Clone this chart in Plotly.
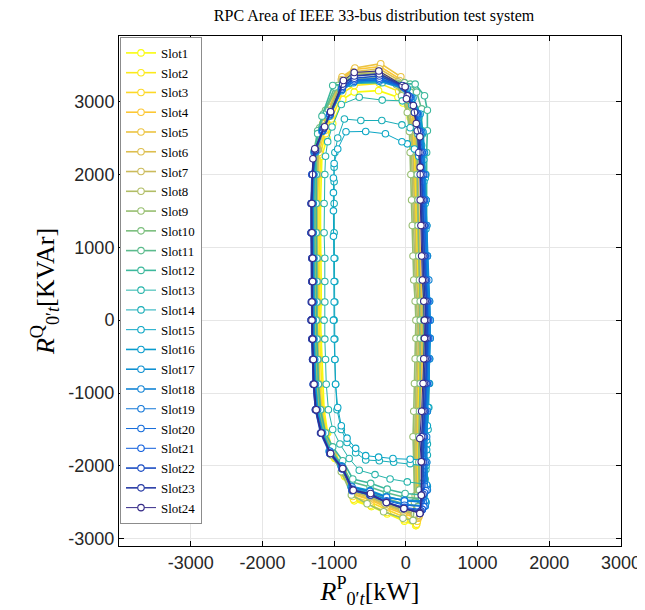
import plotly.graph_objects as go

# ---------------- data ----------------
slot_names = [f"Slot{i}" for i in range(1, 25)]

p1 = [140, 150, 140, 130, 150, 170, 180, 190, 190, 180, 160, 150, 140, 130, 120, 110, 100, 60, -40, -110, -380, -720, -880, -1020, -1100, -1170, -1180, -1190, -1190, -1180, -1180, -1180, -1190, -1180, -1170, -1160, -1140, -1090, -990, -850, -720, -480, -260, -20]
q1 = [-2820, -2560, -1950, -1600, -1250, -870, -530, -250, 0, 260, 550, 880, 1300, 1650, 2000, 2300, 2550, 2780, 2980, 3060, 3150, 3130, 3030, 2700, 2500, 2250, 2000, 1600, 1200, 850, 530, 250, 0, -260, -540, -880, -1230, -1550, -1900, -2150, -2480, -2560, -2660, -2760]
p2 = [150, 160, 150, 150, 170, 180, 190, 200, 200, 190, 170, 160, 150, 140, 130, 120, 110, 70, -30, -100, -370, -720, -880, -1040, -1120, -1190, -1200, -1210, -1210, -1200, -1200, -1200, -1210, -1200, -1190, -1180, -1160, -1100, -1000, -860, -730, -490, -260, -20]
q2 = [-2800, -2540, -1950, -1600, -1250, -870, -530, -250, 0, 260, 550, 880, 1300, 1650, 2000, 2300, 2560, 2810, 3030, 3140, 3250, 3220, 3120, 2760, 2560, 2280, 2000, 1600, 1200, 850, 530, 250, 0, -260, -540, -880, -1230, -1550, -1880, -2130, -2460, -2540, -2640, -2740]
p3 = [160, 170, 160, 160, 180, 190, 200, 210, 210, 200, 180, 170, 160, 150, 140, 130, 120, 80, -20, -90, -370, -720, -880, -1050, -1130, -1210, -1220, -1230, -1230, -1220, -1220, -1220, -1230, -1220, -1210, -1200, -1170, -1110, -1010, -870, -740, -490, -270, -30]
q3 = [-2760, -2500, -1950, -1600, -1250, -870, -530, -250, 0, 260, 550, 880, 1300, 1650, 2000, 2300, 2580, 2840, 3080, 3200, 3320, 3290, 3190, 2800, 2600, 2300, 2000, 1600, 1200, 850, 530, 250, 0, -260, -540, -880, -1230, -1550, -1860, -2100, -2420, -2500, -2600, -2700]
p4 = [170, 180, 180, 170, 190, 210, 220, 230, 230, 220, 200, 190, 180, 170, 160, 150, 130, 90, -10, -80, -360, -720, -890, -1060, -1150, -1230, -1240, -1250, -1250, -1240, -1240, -1240, -1250, -1240, -1230, -1220, -1190, -1120, -1020, -880, -740, -490, -270, -30]
q4 = [-2720, -2470, -1950, -1600, -1250, -870, -530, -250, 0, 260, 550, 880, 1300, 1650, 2000, 2300, 2620, 2900, 3160, 3310, 3480, 3440, 3320, 2900, 2680, 2360, 2000, 1600, 1200, 850, 530, 250, 0, -260, -540, -880, -1230, -1550, -1850, -2080, -2390, -2470, -2570, -2660]
p5 = [180, 190, 190, 180, 200, 220, 230, 240, 240, 230, 210, 200, 190, 180, 170, 160, 140, 100, 0, -70, -350, -710, -890, -1070, -1160, -1240, -1250, -1260, -1260, -1250, -1250, -1250, -1260, -1250, -1240, -1230, -1200, -1130, -1030, -880, -750, -500, -270, -30]
q5 = [-2700, -2450, -1950, -1600, -1250, -870, -530, -250, 0, 260, 550, 880, 1300, 1650, 2000, 2300, 2630, 2920, 3180, 3340, 3520, 3460, 3340, 2920, 2700, 2370, 2000, 1600, 1200, 850, 530, 250, 0, -260, -540, -880, -1230, -1550, -1840, -2070, -2380, -2450, -2550, -2640]
p6 = [170, 190, 180, 180, 190, 200, 210, 220, 220, 210, 190, 180, 170, 160, 150, 140, 120, 80, -20, -90, -370, -730, -900, -1070, -1160, -1250, -1260, -1270, -1270, -1260, -1260, -1260, -1270, -1260, -1250, -1240, -1210, -1140, -1030, -890, -750, -500, -280, -40]
q6 = [-2680, -2440, -1950, -1600, -1250, -870, -530, -250, 0, 260, 550, 880, 1300, 1650, 2000, 2300, 2610, 2880, 3140, 3290, 3450, 3410, 3300, 2880, 2660, 2350, 2000, 1600, 1200, 850, 530, 250, 0, -260, -540, -880, -1230, -1550, -1830, -2060, -2360, -2430, -2530, -2620]
p7 = [140, 150, 140, 140, 150, 160, 170, 180, 180, 170, 150, 140, 130, 120, 110, 100, 90, 50, -40, -110, -380, -730, -890, -1060, -1140, -1220, -1230, -1240, -1240, -1230, -1230, -1230, -1240, -1230, -1220, -1210, -1180, -1120, -1020, -880, -740, -500, -280, -40]
q7 = [-2660, -2420, -1950, -1600, -1250, -870, -530, -250, 0, 260, 550, 880, 1300, 1650, 2000, 2300, 2600, 2870, 3120, 3270, 3420, 3390, 3280, 2870, 2650, 2340, 2000, 1600, 1200, 850, 530, 250, 0, -260, -540, -880, -1230, -1550, -1830, -2040, -2350, -2420, -2520, -2600]
p8 = [120, 130, 120, 120, 130, 140, 150, 160, 160, 150, 130, 120, 110, 100, 90, 80, 70, 30, -50, -120, -380, -730, -890, -1060, -1150, -1230, -1240, -1250, -1250, -1240, -1240, -1240, -1250, -1240, -1230, -1220, -1190, -1130, -1030, -890, -750, -500, -290, -50]
q8 = [-2660, -2410, -1950, -1600, -1250, -870, -530, -250, 0, 260, 550, 880, 1300, 1650, 2000, 2300, 2590, 2860, 3100, 3250, 3400, 3370, 3260, 2860, 2640, 2340, 2000, 1600, 1200, 850, 530, 250, 0, -260, -540, -880, -1230, -1550, -1820, -2030, -2340, -2420, -2520, -2600]
p9 = [100, 120, 110, 100, 110, 120, 130, 140, 140, 130, 110, 100, 90, 80, 70, 60, 50, 20, -60, -130, -390, -740, -900, -1070, -1160, -1240, -1250, -1260, -1260, -1250, -1250, -1250, -1260, -1250, -1240, -1230, -1200, -1140, -1040, -900, -760, -540, -310, -40]
q9 = [-2750, -2500, -1950, -1600, -1250, -870, -530, -250, 0, 260, 550, 880, 1300, 1650, 2000, 2300, 2590, 2850, 3080, 3230, 3380, 3350, 3240, 2850, 2630, 2330, 2000, 1600, 1200, 850, 530, 250, 0, -260, -540, -880, -1230, -1550, -1850, -2080, -2400, -2520, -2630, -2720]
p10 = [170, 190, 180, 180, 190, 200, 200, 200, 200, 200, 190, 180, 170, 170, 160, 160, 150, 130, 60, -20, -380, -760, -950, -1120, -1200, -1260, -1270, -1280, -1280, -1270, -1270, -1270, -1280, -1270, -1260, -1250, -1220, -1150, -1050, -900, -760, -500, -270, -30]
q10 = [-2560, -2330, -1950, -1600, -1250, -870, -530, -250, 0, 260, 550, 880, 1300, 1650, 2000, 2300, 2620, 2900, 3130, 3260, 3330, 3300, 3220, 2880, 2640, 2350, 2000, 1600, 1200, 850, 530, 250, 0, -260, -540, -880, -1230, -1550, -1800, -2000, -2290, -2360, -2450, -2520]
p11 = [220, 240, 230, 230, 240, 250, 250, 250, 250, 250, 240, 240, 230, 230, 230, 230, 230, 220, 150, 60, -340, -760, -990, -1150, -1230, -1280, -1280, -1290, -1290, -1280, -1280, -1280, -1290, -1280, -1270, -1260, -1230, -1150, -1050, -900, -760, -500, -270, -20]
q11 = [-2450, -2230, -1950, -1600, -1250, -870, -530, -250, 0, 260, 550, 880, 1300, 1650, 2000, 2300, 2600, 2900, 3130, 3240, 3300, 3270, 3200, 2830, 2600, 2320, 2000, 1600, 1200, 850, 530, 250, 0, -260, -540, -880, -1230, -1550, -1780, -1970, -2220, -2290, -2370, -2430]
p12 = [250, 270, 270, 270, 280, 290, 290, 290, 290, 290, 290, 280, 280, 280, 280, 290, 300, 300, 260, 130, -330, -780, -1020, -1170, -1230, -1260, -1250, -1250, -1250, -1240, -1240, -1240, -1250, -1240, -1230, -1220, -1190, -1120, -1020, -880, -740, -490, -260, -10]
q12 = [-2400, -2180, -1950, -1600, -1250, -870, -530, -250, 0, 260, 550, 880, 1300, 1650, 2000, 2300, 2600, 2880, 3080, 3240, 3260, 3250, 3220, 2800, 2560, 2300, 2000, 1600, 1200, 850, 530, 250, 0, -260, -540, -880, -1230, -1550, -1740, -1930, -2180, -2240, -2320, -2380]
p13 = [260, 280, 280, 280, 290, 300, 300, 300, 300, 300, 290, 290, 280, 270, 260, 250, 230, 180, 80, -50, -330, -650, -900, -1030, -1090, -1120, -1130, -1140, -1140, -1130, -1130, -1130, -1140, -1130, -1120, -1110, -1080, -1020, -920, -790, -650, -430, -220, 20]
q13 = [-2250, -2050, -1850, -1600, -1250, -870, -530, -250, 0, 260, 550, 880, 1300, 1650, 2000, 2300, 2550, 2780, 2950, 3010, 3020, 3060, 2960, 2650, 2450, 2250, 2000, 1600, 1200, 850, 530, 250, 0, -260, -540, -880, -1230, -1500, -1700, -1900, -2060, -2120, -2180, -2220]
p14 = [280, 300, 300, 310, 320, 330, 330, 330, 330, 320, 310, 300, 290, 280, 270, 250, 220, 170, 60, -55, -335, -628, -857, -950, -990, -1000, -1000, -1000, -1000, -990, -990, -990, -1000, -990, -990, -980, -960, -900, -820, -700, -560, -370, -170, 60]
q14 = [-2000, -1850, -1700, -1500, -1200, -870, -530, -250, 0, 260, 550, 880, 1300, 1650, 1950, 2200, 2400, 2550, 2640, 2680, 2740, 2740, 2760, 2500, 2300, 2100, 1900, 1600, 1200, 850, 530, 250, 0, -260, -540, -880, -1230, -1500, -1680, -1820, -1920, -1930, -1950, -1970]
p15 = [260, 290, 290, 300, 310, 310, 310, 310, 310, 300, 300, 290, 280, 270, 250, 220, 180, 120, 20, -55, -285, -560, -835, -950, -1000, -1010, -1010, -1010, -1010, -1000, -1000, -1000, -1010, -1000, -990, -980, -950, -900, -820, -700, -560, -380, -180, 60]
q15 = [-1920, -1780, -1650, -1450, -1200, -870, -530, -250, 0, 260, 550, 880, 1250, 1600, 1900, 2100, 2250, 2350, 2420, 2448, 2558, 2590, 2585, 2350, 2150, 1950, 1750, 1500, 1150, 850, 530, 250, 0, -260, -540, -880, -1200, -1450, -1620, -1760, -1860, -1880, -1900, -1910]
p16 = [280, 300, 290, 280, 300, 320, 330, 340, 340, 330, 310, 300, 290, 280, 270, 260, 240, 200, 100, 20, -360, -720, -890, -1060, -1160, -1260, -1280, -1290, -1290, -1280, -1280, -1280, -1290, -1280, -1270, -1260, -1230, -1160, -1060, -900, -760, -500, -270, -20]
q16 = [-2500, -2280, -1950, -1600, -1250, -870, -530, -250, 0, 260, 550, 880, 1300, 1650, 2000, 2300, 2580, 2830, 3050, 3180, 3300, 3280, 3170, 2810, 2600, 2310, 2000, 1600, 1200, 850, 530, 250, 0, -260, -540, -880, -1230, -1550, -1800, -2000, -2280, -2340, -2420, -2480]
p17 = [270, 290, 280, 270, 290, 310, 320, 330, 330, 320, 300, 290, 280, 270, 260, 240, 220, 180, 80, 0, -370, -730, -900, -1070, -1170, -1280, -1300, -1310, -1310, -1300, -1300, -1300, -1310, -1300, -1290, -1280, -1250, -1170, -1070, -900, -760, -500, -270, -20]
q17 = [-2480, -2260, -1950, -1600, -1250, -870, -530, -250, 0, 260, 550, 880, 1300, 1650, 2000, 2300, 2570, 2820, 3040, 3170, 3280, 3260, 3150, 2800, 2590, 2300, 2000, 1600, 1200, 850, 530, 250, 0, -260, -540, -880, -1230, -1550, -1800, -2010, -2290, -2350, -2430, -2470]
p18 = [270, 300, 290, 290, 300, 320, 330, 340, 340, 330, 320, 300, 290, 280, 270, 250, 220, 170, 70, -10, -370, -720, -890, -1060, -1160, -1270, -1300, -1310, -1320, -1300, -1300, -1310, -1310, -1300, -1290, -1280, -1250, -1170, -1060, -890, -750, -490, -260, -10]
q18 = [-2550, -2330, -1950, -1600, -1250, -870, -530, -250, 0, 260, 550, 880, 1300, 1650, 2000, 2300, 2580, 2830, 3060, 3190, 3300, 3280, 3170, 2820, 2600, 2310, 2000, 1600, 1200, 850, 530, 250, 0, -260, -540, -880, -1230, -1550, -1810, -2020, -2310, -2380, -2470, -2530]
p19 = [240, 260, 250, 250, 260, 280, 290, 300, 300, 290, 270, 260, 250, 240, 230, 210, 190, 150, 50, -30, -370, -720, -890, -1060, -1160, -1260, -1290, -1300, -1300, -1290, -1290, -1290, -1300, -1290, -1280, -1270, -1240, -1170, -1060, -890, -750, -500, -270, -20]
q19 = [-2500, -2280, -1950, -1600, -1250, -870, -530, -250, 0, 260, 550, 880, 1300, 1650, 2000, 2300, 2590, 2840, 3070, 3200, 3320, 3290, 3180, 2830, 2610, 2320, 2000, 1600, 1200, 850, 530, 250, 0, -260, -540, -880, -1230, -1550, -1800, -2010, -2290, -2350, -2430, -2480]
p20 = [250, 280, 270, 260, 280, 300, 310, 320, 320, 310, 290, 280, 270, 260, 250, 230, 200, 160, 60, -20, -370, -720, -890, -1060, -1160, -1270, -1310, -1320, -1320, -1310, -1310, -1310, -1320, -1310, -1300, -1290, -1260, -1180, -1060, -890, -750, -500, -270, -20]
q20 = [-2560, -2340, -1950, -1600, -1250, -870, -530, -250, 0, 260, 550, 880, 1300, 1650, 2000, 2300, 2580, 2830, 3060, 3190, 3300, 3280, 3170, 2820, 2600, 2320, 2000, 1600, 1200, 850, 530, 250, 0, -260, -540, -880, -1230, -1550, -1820, -2030, -2320, -2390, -2480, -2540]
p21 = [230, 260, 250, 250, 270, 290, 300, 310, 310, 300, 280, 270, 260, 250, 240, 220, 190, 150, 50, -30, -370, -720, -890, -1060, -1160, -1270, -1300, -1310, -1310, -1300, -1300, -1300, -1310, -1300, -1290, -1280, -1250, -1180, -1060, -890, -750, -500, -270, -20]
q21 = [-2600, -2370, -1950, -1600, -1250, -870, -530, -250, 0, 260, 550, 880, 1300, 1650, 2000, 2300, 2590, 2840, 3070, 3200, 3320, 3300, 3190, 2830, 2610, 2320, 2000, 1600, 1200, 850, 530, 250, 0, -260, -540, -880, -1230, -1550, -1830, -2040, -2340, -2400, -2500, -2570]
p22 = [210, 240, 240, 240, 260, 280, 290, 300, 300, 290, 270, 260, 250, 240, 220, 200, 170, 130, 30, -40, -370, -720, -880, -1050, -1150, -1270, -1310, -1320, -1320, -1310, -1310, -1320, -1320, -1310, -1300, -1290, -1260, -1190, -1060, -890, -750, -500, -270, -30]
q22 = [-2620, -2390, -1950, -1600, -1250, -870, -530, -250, 0, 260, 550, 880, 1300, 1650, 2000, 2300, 2600, 2850, 3080, 3210, 3350, 3320, 3210, 2850, 2630, 2330, 2000, 1600, 1200, 850, 530, 250, 0, -260, -540, -880, -1230, -1550, -1830, -2040, -2330, -2400, -2500, -2580]
p23 = [200, 220, 220, 220, 240, 260, 270, 280, 280, 270, 250, 240, 230, 220, 200, 180, 160, 120, 20, -50, -370, -720, -880, -1050, -1140, -1260, -1300, -1320, -1320, -1310, -1310, -1310, -1320, -1310, -1300, -1290, -1260, -1180, -1050, -880, -740, -490, -270, -30]
q23 = [-2640, -2400, -1950, -1600, -1250, -870, -530, -250, 0, 260, 550, 880, 1300, 1650, 2000, 2300, 2600, 2850, 3080, 3220, 3380, 3350, 3240, 2860, 2640, 2340, 2000, 1600, 1200, 850, 530, 250, 0, -260, -540, -880, -1230, -1550, -1830, -2040, -2330, -2400, -2500, -2590]
p24 = [195, 215, 215, 195, 220, 240, 250, 260, 260, 250, 230, 220, 210, 200, 200, 195, 145, 104, 8, -10, -377, -720, -871, -1049, -1132, -1270, -1296, -1310, -1310, -1300, -1300, -1310, -1310, -1300, -1290, -1280, -1250, -1180, -1050, -880, -734, -492, -272, -27]
q24 = [-2654, -2403, -1943, -1625, -1250, -870, -530, -250, 0, 260, 550, 880, 1300, 1650, 2100, 2517, 2700, 2946, 3038, 3203, 3420, 3400, 3290, 2860, 2655, 2353, 2215, 1600, 1200, 850, 530, 250, 0, -260, -540, -880, -1230, -1550, -1831, -2037, -2335, -2380, -2504, -2586]

p_series = [p1, p2, p3, p4, p5, p6, p7, p8, p9, p10, p11, p12,
            p13, p14, p15, p16, p17, p18, p19, p20, p21, p22, p23, p24]
q_series = [q1, q2, q3, q4, q5, q6, q7, q8, q9, q10, q11, q12,
            q13, q14, q15, q16, q17, q18, q19, q20, q21, q22, q23, q24]

tick_vals = [-3000, -2000, -1000, 0, 1000, 2000, 3000]
tick_text = ["-3000", "-2000", "-1000", "0", "1000", "2000", "3000"]

# ---------------- styles ----------------
parula_anchors = [(53, 42, 135), (15, 92, 221), (20, 129, 214), (6, 164, 202),
                  (46, 183, 164), (135, 191, 119), (209, 187, 89), (254, 200, 50),
                  (249, 251, 14)]


def parula(t):
    t = min(max(t, 0.0), 1.0)
    s = t * (len(parula_anchors) - 1)
    i = min(int(s), len(parula_anchors) - 2)
    f = s - i
    a, b = parula_anchors[i], parula_anchors[i + 1]
    return "rgb({},{},{})".format(*[round(a[k] + (b[k] - a[k]) * f) for k in range(3)])


widths = [1.6] * 12 + [1.0] * 3 + [1.6] * 3 + [1.0] * 3 + [1.6] * 2 + [1.0]

fig = go.Figure()
n = len(slot_names)
for i in range(n):
    col = parula(1 - i / (n - 1))
    xs = p_series[i] + p_series[i][:1]
    ys = q_series[i] + q_series[i][:1]
    fig.add_trace(go.Scatter(
        x=xs, y=ys, mode="lines+markers", name=slot_names[i],
        line=dict(color=col, width=widths[i]),
        marker=dict(symbol="circle", size=6.5, color="white",
                    line=dict(color=col, width=1.1)),
    ))

axis_common = dict(
    showline=True, linecolor="black", linewidth=1, mirror="ticks",
    ticks="inside", ticklen=5, tickcolor="black",
    showgrid=True, gridcolor="#e6e6e6", gridwidth=1, zeroline=False,
    tickfont=dict(family="Liberation Sans, Arial, sans-serif", size=18, color="#262626"),
    tickvals=tick_vals, ticktext=tick_text,
)

fig.update_layout(
    width=645, height=610,
    margin=dict(l=111, r=24, t=28, b=72),
    paper_bgcolor="white", plot_bgcolor="white",
    title=dict(text="RPC Area of IEEE 33-bus distribution test system",
               x=0.5675, xanchor="center", y=1.0, yanchor="top",
               pad=dict(t=2, b=0),
               font=dict(family="Liberation Serif, serif", size=16, color="black")),
    xaxis=dict(range=[-4000, 3000],
               title=dict(text="<i>R</i><sup>P</sup><sub>0′<i>t</i></sub>[kW]",
                          font=dict(family="Liberation Serif, serif", size=26, color="black"),
                          standoff=2),
               **axis_common),
    yaxis=dict(range=[-3100, 3900],
               title=dict(text="<i>R</i><sup>Q</sup><sub>0′<i>t</i></sub>[KVAr]",
                          font=dict(family="Liberation Serif, serif", size=26, color="black"),
                          standoff=6),
               **axis_common),
    legend=dict(x=0.002, y=0.998, xanchor="left", yanchor="top",
                bgcolor="white", bordercolor="#8c8c8c", borderwidth=1,
                font=dict(family="Liberation Serif, serif", size=12.9, color="black"),
                itemwidth=30, tracegroupgap=0),
    showlegend=True,
)

fig.write_html("out.html")
